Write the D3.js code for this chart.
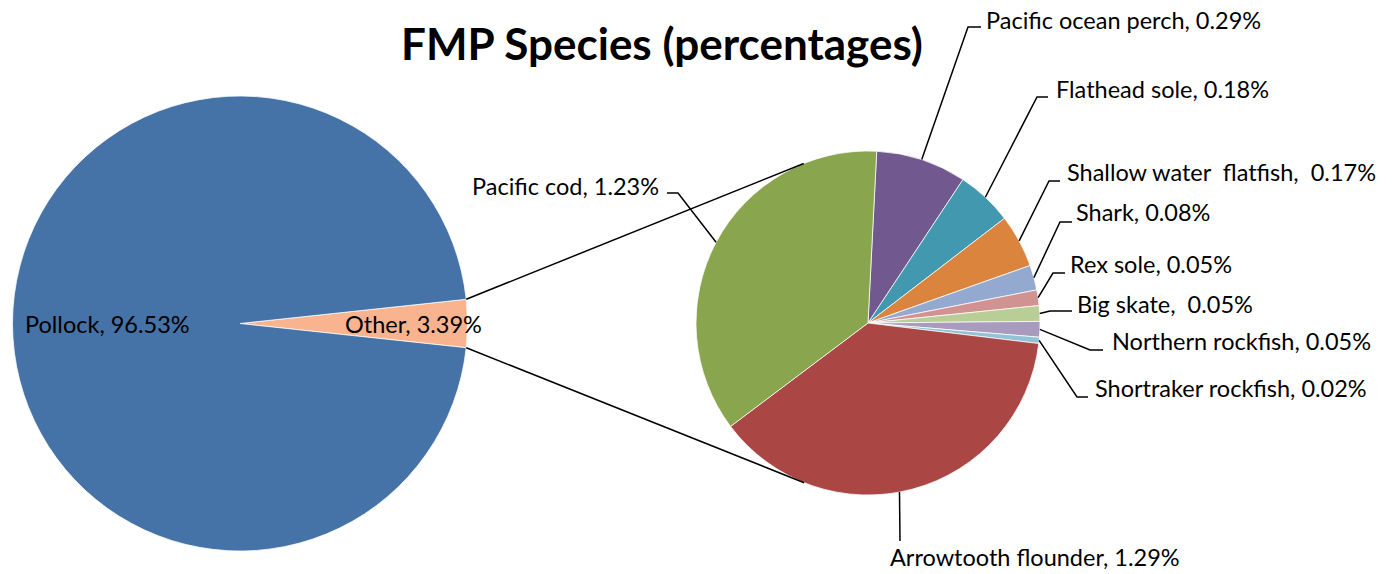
<!DOCTYPE html>
<html>
<head>
<meta charset="utf-8">
<script src="https://cdn.jsdelivr.net/npm/d3@7"></script>
<style>
  body { margin: 0; background: #fff; }
  svg text { font-family: Lato, "Open Sans", sans-serif; fill: #000; }
</style>
</head>
<body>
<div class="chart"></div>
<script>
'use strict';

// main pie
var mainNames = ['Other', 'Pollock'];
var mainValues = [3.39, 96.53];
var mainColors = ['#F9B48F', '#4572A7'];

// breakdown of "Other"
var subNames = ['Pacific ocean perch', 'Flathead sole', 'Shallow water  flatfish', 'Shark',
  'Rex sole', 'Big skate', 'Northern rockfish', 'Shortraker rockfish',
  'Arrowtooth flounder', 'Pacific cod'];
var subValues = [0.29, 0.18, 0.17, 0.08, 0.05, 0.05, 0.05, 0.02, 1.29, 1.23];
var subLabels = ['0.29%', '0.18%', ' 0.17%', '0.08%', '0.05%', ' 0.05%', '0.05%', '0.02%', '1.29%', '1.23%'];
var subColors = ['#71588F', '#4198AF', '#DB843D', '#93A9CF', '#D19392',
  '#B9CD96', '#A99BBD', '#92C3D4', '#AA4643', '#89A54E'];

var width = 1399, height = 574;
var deg = Math.PI / 180;
var fontSize = '23.5px';

var mainC = {x: 240, y: 323.5, r: 227.5};
var subC = {x: 868, y: 323, r: 172};

// label placement for the second pie: text start, elbow, end of short horizontal
var subPlace = [
  {tx: 986, ty: 29, ex: 968, ey: 27, hx: 981},
  {tx: 1056, ty: 98, ex: 1037, ey: 97, hx: 1048},
  {tx: 1067, ty: 181, ex: 1049, ey: 181, hx: 1060},
  {tx: 1076, ty: 221, ex: 1060, ey: 222, hx: 1072},
  {tx: 1070, ty: 273, ex: 1053, ey: 273, hx: 1065},
  {tx: 1077, ty: 313, ex: 1050, ey: 311, hx: 1072},
  {tx: 1112, ty: 350, ex: 1090, ey: 350, hx: 1103},
  {tx: 1095, ty: 397, ex: 1077, ey: 397, hx: 1088},
  {tx: 890, ty: 566, ex: 900, ey: 541, hx: 900, frac: 0.533},
  {tx: 472, ty: 195, ex: 678, ey: 193, hx: 667}
];

var svg = d3.select('.chart').append('svg')
  .attr('width', width)
  .attr('height', height);

svg.append('text')
  .attr('x', 662)
  .attr('y', 60)
  .attr('text-anchor', 'middle')
  .style('font-size', '44px')
  .style('font-weight', 'bold')
  .text('FMP Species (percentages)');

// first pie, "Other" centred on the right-hand side
var mainTotal = d3.sum(mainValues);
var otherSpan = mainValues[0] / mainTotal * 2 * Math.PI;
var mainPie = d3.pie().sort(null)
  .startAngle(Math.PI / 2 - otherSpan / 2)
  .endAngle(Math.PI / 2 - otherSpan / 2 + 2 * Math.PI);
var mainArcs = mainPie(mainValues);
var mainArc = d3.arc().innerRadius(0).outerRadius(mainC.r);

var gMain = svg.append('g')
  .attr('transform', 'translate(' + mainC.x + ',' + mainC.y + ')');

gMain.selectAll('path')
  .data(mainArcs)
  .enter().append('path')
  .attr('d', mainArc)
  .attr('fill', function(d, i) { return mainColors[i]; })
  .attr('stroke', '#fff')
  .attr('stroke-width', 0.75);

// second pie
var subPie = d3.pie().sort(null)
  .startAngle(2.9 * deg)
  .endAngle(2.9 * deg + 2 * Math.PI);
var subArcs = subPie(subValues);
var subArc = d3.arc().innerRadius(0).outerRadius(subC.r);

var gSub = svg.append('g')
  .attr('transform', 'translate(' + subC.x + ',' + subC.y + ')');

gSub.selectAll('path')
  .data(subArcs)
  .enter().append('path')
  .attr('d', subArc)
  .attr('fill', function(d, i) { return subColors[i]; })
  .attr('stroke', '#fff')
  .attr('stroke-width', 0.75);

// connector lines: tangents from the edges of "Other" to the second pie
function polar(c, a, r) {
  return [c.x + r * Math.sin(a), c.y - r * Math.cos(a)];
}
var oA = mainArcs[0];
var pTop = polar(mainC, oA.startAngle, mainC.r);
var pBot = polar(mainC, oA.endAngle, mainC.r);

function tangent(p, side) {
  var dx = subC.x - p[0], dy = subC.y - p[1];
  var d = Math.sqrt(dx * dx + dy * dy);
  var base = Math.atan2(dy, dx);
  var alpha = Math.asin(subC.r / d);
  var len = Math.sqrt(d * d - subC.r * subC.r);
  var a = base + side * alpha;
  return [p[0] + len * Math.cos(a), p[1] + len * Math.sin(a)];
}

var connectors = [[pTop, tangent(pTop, -1)], [pBot, tangent(pBot, 1)]];
svg.selectAll('.conn')
  .data(connectors)
  .enter().append('line')
  .attr('class', 'conn')
  .attr('x1', function(d) { return d[0][0]; })
  .attr('y1', function(d) { return d[0][1]; })
  .attr('x2', function(d) { return d[1][0]; })
  .attr('y2', function(d) { return d[1][1]; })
  .attr('stroke', '#000')
  .attr('stroke-width', 1.5);

// labels on the first pie
svg.append('text')
  .attr('x', 25).attr('y', 333)
  .style('font-size', fontSize)
  .text(mainNames[1] + ', ' + mainValues[1].toFixed(2) + '%');
svg.append('text')
  .attr('x', 345).attr('y', 333)
  .style('font-size', fontSize)
  .text(mainNames[0] + ', ' + mainValues[0].toFixed(2) + '%');

// leader lines and labels for the second pie
var line = d3.line();
svg.selectAll('.leader')
  .data(subArcs)
  .enter().append('path')
  .attr('class', 'leader')
  .attr('fill', 'none')
  .attr('stroke', '#000')
  .attr('stroke-width', 1.5)
  .attr('d', function(d, i) {
    var p = subPlace[i];
    var f = p.frac == null ? 0.5 : p.frac;
    var a = d.startAngle + (d.endAngle - d.startAngle) * f;
    var s = polar(subC, a, subC.r);
    return line([s, [p.ex, p.ey], [p.hx, p.ey]]);
  });

svg.selectAll('.sublabel')
  .data(subArcs)
  .enter().append('text')
  .attr('class', 'sublabel')
  .attr('x', function(d, i) { return subPlace[i].tx; })
  .attr('y', function(d, i) { return subPlace[i].ty; })
  .style('font-size', fontSize)
  .style('white-space', 'pre')
  .text(function(d, i) { return subNames[i] + ', ' + subLabels[i]; });
</script>
</body>
</html>
